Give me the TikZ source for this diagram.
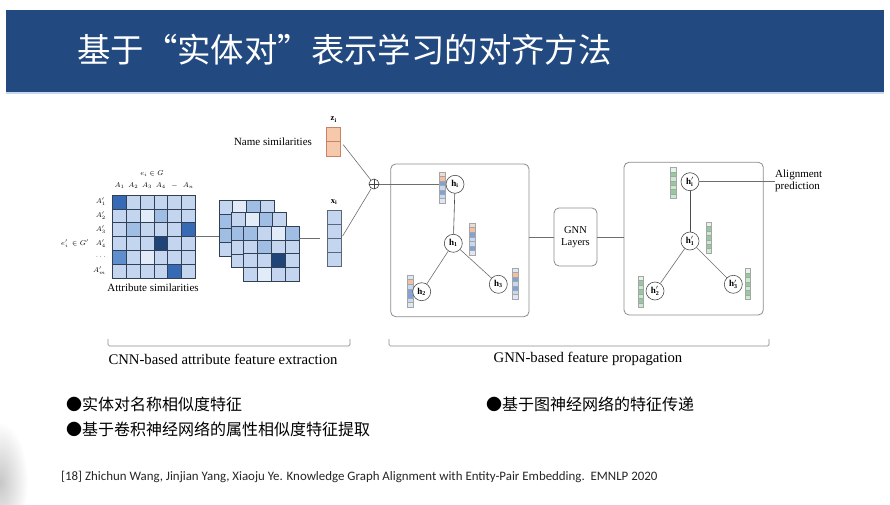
\documentclass[tikz,border=0pt]{standalone}
\usepackage{fontspec}
\setmainfont{Liberation Serif}
\newfontfamily\cjk{Noto Sans CJK SC}
\newfontfamily\citefont{Carlito}

% palette
\definecolor{banner}{RGB}{35,74,128}
\definecolor{bannerline}{RGB}{200,216,236}
\definecolor{cL}{RGB}{196,214,239}
\definecolor{cV}{RGB}{226,235,248}
\definecolor{cM}{RGB}{160,189,228}
\definecolor{cB}{RGB}{96,143,206}
\definecolor{cD}{RGB}{54,106,180}
\definecolor{cK}{RGB}{30,68,120}
\definecolor{gridcol}{RGB}{50,64,86}
\definecolor{pk}{RGB}{237,220,213}
\definecolor{sa}{RGB}{242,191,162}
\definecolor{bl}{RGB}{127,162,218}
\definecolor{lb}{RGB}{200,216,240}
\definecolor{vb}{RGB}{222,231,246}
\definecolor{gw}{RGB}{232,243,232}
\definecolor{gm}{RGB}{147,203,158}
\definecolor{gl}{RGB}{205,232,208}
\definecolor{zfill}{RGB}{246,200,172}
\definecolor{zline}{RGB}{200,130,100}
\definecolor{linegray}{RGB}{110,110,110}
\definecolor{boxgray}{RGB}{140,140,140}

% square cells laid out row by row: x0, y0, columns, cell w, cell h, colour codes
\newcommand{\cellgrid}[6]{%
  \foreach \gc [count=\gk from 0] in {#6}{
    \pgfmathtruncatemacro{\gr}{floor(\gk/#3)}
    \pgfmathtruncatemacro{\gq}{\gk-\gr*#3}
    \draw[cellline, fill=c\gc] ({#1+\gq*#4},{#2+\gr*#5}) rectangle ++(#4,#5);
  }}

% a named column vector: name, x0, y0, width, height, cells, colours
\newcommand{\cellvec}[7]{%
  \node[vecbox, anchor=north west, minimum width=#4pt, minimum height=#5pt] (#1) at (#2,#3) {};
  \pgfmathsetmacro{\cvh}{#5/#6}
  \foreach \cvc [count=\cvk from 0] in {#7}{
    \draw[vecline, fill=\cvc] (#2,{#3+\cvk*\cvh}) rectangle ++(#4,\cvh);
  }}

\begin{document}
\begin{tikzpicture}[x=1pt,y=-1pt,
  conn/.style={draw=linegray, line width=0.6pt},
  panel/.style={draw=boxgray, line width=0.8pt, rounded corners=5pt, inner sep=0, fill=white},
  hnode/.style={circle, draw=black!70, line width=0.6pt, fill=white, minimum size=18pt, inner sep=0, font=\fontsize{9}{10}\selectfont},
  cellline/.style={draw=gridcol, line width=0.6pt},
  vecline/.style={draw=black!35, line width=0.3pt},
  vecbox/.style={inner sep=0, outer sep=0, draw=none},
  small/.style={font=\fontsize{7}{8}\selectfont, inner sep=0},
  label/.style={font=\fontsize{11}{13}\selectfont, inner sep=0},
  stage/.style={font=\fontsize{14.7}{17}\selectfont, inner sep=0},
  bracket/.style={draw=black!45, line width=0.7pt, rounded corners=1.5pt},
  bullet/.style={anchor=west, inner sep=0, font=\cjk\fontsize{16}{18}\selectfont}
]
\useasboundingbox (0,0) rectangle (890,505);
\fill[white] (0,0) rectangle (890,505);

% soft grey smear in the lower left corner
\begin{scope}
  \clip (0,0) rectangle (890,505);
  \shade[inner color=black!22, outer color=white] (0,482) ellipse (28 and 60);
\end{scope}

% title banner
\fill[banner] (6,10) rectangle (884,92);
\fill[bannerline] (6,92) rectangle (884,94.5);
\node[anchor=west, inner sep=0, text=white, font=\cjk\fontsize{33.4}{40}\selectfont] (title) at (77,50) {基于“实体对”表示学习的对齐方法};

% ---- attribute similarity matrix ----
\node[vecbox, anchor=north west, minimum width=82.5pt, minimum height=83pt] (mat) at (112.7,195) {};
\cellgrid{112.7}{195}{6}{13.75}{13.83}{D,L,L,L,L,L, L,L,V,M,L,L, L,M,L,L,L,D, L,L,L,K,L,L, B,L,V,L,L,L, L,L,L,L,D,L}
\node[small] (eG) at (152,174) {$e_i\in G$};
\foreach \lab [count=\k from 0] in {$A_1$,$A_2$,$A_3$,$A_4$,$-$,$A_n$}
  \node[small] (col\k) at ({119.6+13.75*\k},186) {\lab};
\foreach \lab [count=\k from 0] in {$A'_1$,$A'_2$,$A'_3$,$A'_4$,$\cdots$,$A'_m$}
  \node[small, anchor=east] (row\k) at (106,{201.9+13.83*\k}) {\lab};
\node[small, anchor=east] (eGp) at (89,243.4) {$e'_i\ \in G'$};
\node[label] (attr) at (153,288) {Attribute similarities};

% ---- stacked feature maps ----
\node[vecbox, anchor=north west, minimum width=80pt, minimum height=80.3pt] (maps) at (219,200.7) {};
\cellgrid{219}{200.7}{4}{13.75}{13.8}{L,V,M,L, M,L,L,L, M,L,L,L, L,L,L,L}
\cellgrid{231.5}{212.5}{4}{13.75}{13.8}{L,V,M,L, M,L,V,M, L,L,L,L, L,L,L,L}
\cellgrid{243}{226}{4}{14}{13.8}{M,L,V,M, L,M,L,L, L,L,K,L, L,V,L,L}

% ---- x_i and z_i ----
\node[vecbox, anchor=north west, minimum width=14pt, minimum height=56pt] (xi) at (327,210.7) {};
\foreach \k in {0,...,3}
  \draw[cellline, draw=gridcol!80, fill=cL] (327,{210.7+14*\k}) rectangle ++(14,14);
\node[small, font=\fontsize{8.5}{9}\selectfont] (xil) at (334,202) {$\mathbf{x}_{\mathbf{i}}$};

\node[vecbox, anchor=north west, minimum width=14pt, minimum height=29pt] (zi) at (326.7,127) {};
\foreach \k in {0,1}
  \draw[draw=zline, line width=0.6pt, fill=zfill] (326.7,{127+14.5*\k}) rectangle ++(14,14.5);
\node[small, font=\fontsize{8.5}{9}\selectfont] (zil) at (333.7,119.5) {$\mathbf{z}_{\mathbf{i}}$};
\node[label] (name) at (273,142) {Name similarities};

% concatenation
\node[circle, draw=black!75, line width=0.6pt, minimum size=10pt, inner sep=0] (plus) at (374,184) {};
\draw[black!75, line width=0.6pt] (plus.north) -- (plus.south) (plus.west) -- (plus.east);

% ---- first GNN panel ----
\node[panel, minimum width=138.3pt, minimum height=152.7pt] (box1) at (459.85,240.35) {};
\cellvec{vhi}{439}{172}{6}{31}{7}{pk,sa,bl,lb,bl,lb,vb}
\cellvec{vh1}{469}{223}{6}{32}{7}{pk,sa,bl,lb,lb,bl,vb}
\cellvec{vh2}{407}{275}{6}{32}{7}{vb,sa,lb,bl,bl,lb,vb}
\cellvec{vh3}{512}{268}{6}{31}{7}{vb,sa,bl,lb,bl,lb,vb}
\node[hnode] (hi) at (455,184.3) {$\mathbf{h}_{\mathbf{i}}$};
\node[hnode] (h1) at (453.3,243.3) {$\mathbf{h}_{\mathbf{1}}$};
\node[hnode] (h2) at (421.7,291.7) {$\mathbf{h}_{\mathbf{2}}$};
\node[hnode] (h3) at (498.3,284.3) {$\mathbf{h}_{\mathbf{3}}$};
\draw[conn, draw=black!70] (hi) -- (h1);
\draw[conn] (h1) -- (h2);
\draw[conn] (h1) -- (h3);

% ---- GNN layers ----
\node[panel, minimum width=43pt, minimum height=58pt, align=center, font=\fontsize{10.5}{12.5}\selectfont] (gnn) at (575.5,237) {GNN\\Layers};

% ---- second GNN panel ----
\node[panel, minimum width=139.3pt, minimum height=152.7pt] (box2) at (693.65,238.65) {};
\cellvec{vpi}{670.5}{167.5}{5.5}{31}{7}{gw,gm,gl,gm,gl,gm,gl}
\cellvec{vp1}{706}{222}{5.5}{31}{7}{gw,gm,gl,gm,gl,gm,gl}
\cellvec{vp2}{638}{276}{5.5}{31.5}{7}{gw,gm,gl,gm,gl,gm,gl}
\cellvec{vp3}{745}{268.5}{5.5}{31}{7}{gw,gm,gl,gm,gl,gm,gl}
\node[hnode] (hpi) at (690,181.7) {$\mathbf{h}'_{\mathbf{i}}$};
\node[hnode] (hp1) at (690,241) {$\mathbf{h}'_{\mathbf{1}}$};
\node[hnode] (hp2) at (655,291) {$\mathbf{h}'_{\mathbf{2}}$};
\node[hnode] (hp3) at (733.3,284.3) {$\mathbf{h}'_{\mathbf{3}}$};
\draw[conn, draw=black!70] (hpi) -- (hp1);
\draw[conn] (hp1) -- (hp2);
\draw[conn] (hp1) -- (hp3);
\node[anchor=west, align=left, inner sep=0, font=\fontsize{11}{12.5}\selectfont] (align) at (775,181) {Alignment\\prediction};

% ---- connectors ----
\draw[conn] (mat.east) -- (mat.east -| maps.west);
\draw[conn, shorten >=7pt] (xi.west -| maps.east) -- (xi.west);
\draw[conn, shorten <=4pt] (zi.east) -- (plus);
\draw[conn, shorten <=3pt] (xi.east) -- (plus);
\draw[conn] (plus.east) -- (plus.east -| vhi.west);
\draw[conn] (gnn.west -| box1.east) -- (gnn.west);
\draw[conn] (gnn.east) -- (gnn.east -| box2.west);
\draw[conn] (hpi.east) -- (hpi.east -| align.west);

% ---- stage brackets ----
\draw[bracket] (108,339) -- (108,346) -- (350,346) -- (350,339);
\draw[bracket] (389,339) -- (389,346) -- (769,346) -- (769,339);
\node[stage] (cnn) at (223,359) {CNN-based attribute feature extraction};
\node[stage] (gnnlab) at (588,359) {GNN-based feature propagation};

% ---- bullet points ----
\node[bullet] (b1) at (66,404) {●实体对名称相似度特征};
\node[bullet] (b2) at (66,429) {●基于卷积神经网络的属性相似度特征提取};
\node[bullet] (b3) at (486,404) {●基于图神经网络的特征传递};

% ---- reference ----
\node[anchor=west, inner sep=0, text=black!85, font=\citefont\fontsize{12.9}{15}\selectfont] (cite) at (61,477)
  {[18] Zhichun Wang, Jinjian Yang, Xiaoju Ye. Knowledge Graph Alignment with Entity-Pair Embedding.\ \ EMNLP 2020};
\end{tikzpicture}
\end{document}
